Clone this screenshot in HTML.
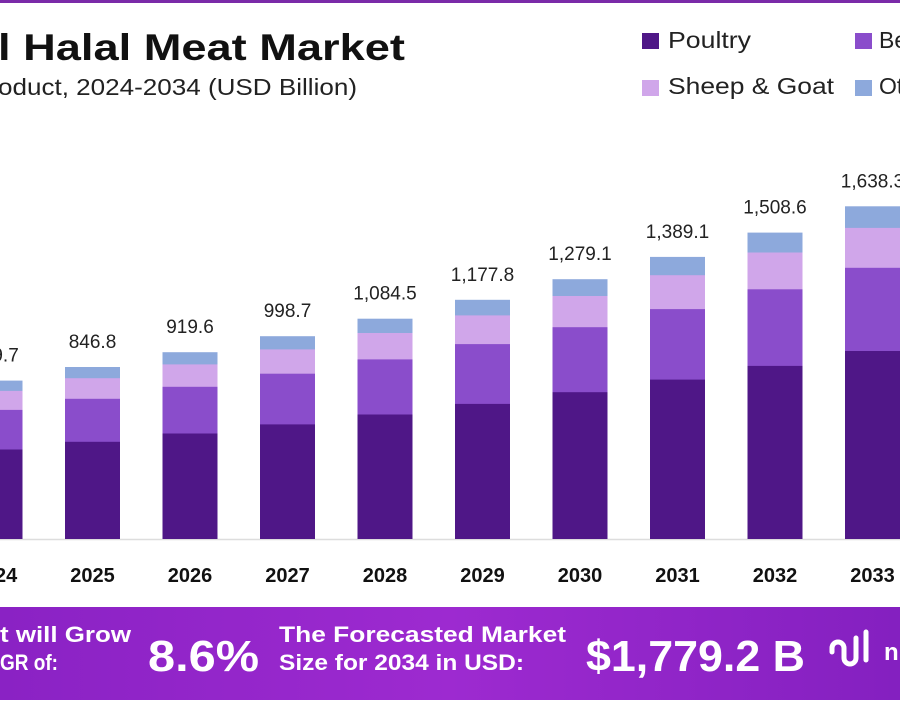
<!DOCTYPE html>
<html><head><meta charset="utf-8"><style>
body{margin:0;width:900px;height:700px;overflow:hidden;background:#fff;font-family:"Liberation Sans",sans-serif;}
</style></head><body>
<svg width="900" height="700" viewBox="0 0 900 700" xmlns="http://www.w3.org/2000/svg" font-family="Liberation Sans, sans-serif">
<defs>
<linearGradient id="bg" x1="0" y1="0" x2="1" y2="0">
<stop offset="0" stop-color="#8a22c4"/><stop offset="0.5" stop-color="#9d2ad0"/><stop offset="1" stop-color="#8420c0"/>
</linearGradient>
</defs>
<rect x="0" y="0" width="900" height="3" fill="#7a2aa8"/>
<text x="-2" y="60" font-size="37" font-weight="bold" fill="#111" textLength="407" lengthAdjust="spacingAndGlyphs">l Halal Meat Market</text>
<text x="-2" y="95" font-size="23" fill="#222" textLength="359" lengthAdjust="spacingAndGlyphs">oduct, 2024-2034 (USD Billion)</text>
<g font-size="23" fill="#222">
<rect x="642" y="33" width="17" height="16" fill="#4f1787"/><text x="668" y="48" textLength="83" lengthAdjust="spacingAndGlyphs">Poultry</text>
<rect x="855" y="33" width="17" height="16" fill="#8a4dcb"/><text x="879" y="48">Be</text>
<rect x="642" y="80" width="17" height="16" fill="#d0a6ea"/><text x="668" y="94" textLength="166" lengthAdjust="spacingAndGlyphs">Sheep &amp; Goat</text>
<rect x="855" y="80" width="17" height="16" fill="#8da9dc"/><text x="879" y="94">Ot</text>
</g>
<line x1="0" y1="539.5" x2="900" y2="539.5" stroke="#ddd" stroke-width="1.5"/>
<g>
<rect x="-32.5" y="380.6" width="55" height="158.4" fill="#8da9dc"/><rect x="-32.5" y="390.9" width="55" height="148.1" fill="#d0a6ea"/><rect x="-32.5" y="409.9" width="55" height="129.1" fill="#8a4dcb"/><rect x="-32.5" y="449.5" width="55" height="89.5" fill="#4f1787"/>
<rect x="65" y="367" width="55" height="172" fill="#8da9dc"/><rect x="65" y="378.2" width="55" height="160.8" fill="#d0a6ea"/><rect x="65" y="398.8" width="55" height="140.2" fill="#8a4dcb"/><rect x="65" y="441.8" width="55" height="97.2" fill="#4f1787"/>
<rect x="162.5" y="352.2" width="55" height="186.8" fill="#8da9dc"/><rect x="162.5" y="364.4" width="55" height="174.6" fill="#d0a6ea"/><rect x="162.5" y="386.8" width="55" height="152.2" fill="#8a4dcb"/><rect x="162.5" y="433.5" width="55" height="105.5" fill="#4f1787"/>
<rect x="260" y="336.2" width="55" height="202.8" fill="#8da9dc"/><rect x="260" y="349.4" width="55" height="189.6" fill="#d0a6ea"/><rect x="260" y="373.7" width="55" height="165.3" fill="#8a4dcb"/><rect x="260" y="424.4" width="55" height="114.6" fill="#4f1787"/>
<rect x="357.5" y="318.7" width="55" height="220.3" fill="#8da9dc"/><rect x="357.5" y="333" width="55" height="206" fill="#d0a6ea"/><rect x="357.5" y="359.4" width="55" height="179.6" fill="#8a4dcb"/><rect x="357.5" y="414.5" width="55" height="124.5" fill="#4f1787"/>
<rect x="455" y="299.8" width="55" height="239.2" fill="#8da9dc"/><rect x="455" y="315.4" width="55" height="223.6" fill="#d0a6ea"/><rect x="455" y="344.1" width="55" height="194.9" fill="#8a4dcb"/><rect x="455" y="403.9" width="55" height="135.1" fill="#4f1787"/>
<rect x="552.5" y="279.2" width="55" height="259.8" fill="#8da9dc"/><rect x="552.5" y="296" width="55" height="243" fill="#d0a6ea"/><rect x="552.5" y="327.2" width="55" height="211.8" fill="#8a4dcb"/><rect x="552.5" y="392.2" width="55" height="146.8" fill="#4f1787"/>
<rect x="650" y="256.9" width="55" height="282.1" fill="#8da9dc"/><rect x="650" y="275.2" width="55" height="263.8" fill="#d0a6ea"/><rect x="650" y="309.1" width="55" height="229.9" fill="#8a4dcb"/><rect x="650" y="379.6" width="55" height="159.4" fill="#4f1787"/>
<rect x="747.5" y="232.6" width="55" height="306.4" fill="#8da9dc"/><rect x="747.5" y="252.5" width="55" height="286.5" fill="#d0a6ea"/><rect x="747.5" y="289.3" width="55" height="249.7" fill="#8a4dcb"/><rect x="747.5" y="365.9" width="55" height="173.1" fill="#4f1787"/>
<rect x="845" y="206.3" width="55" height="332.7" fill="#8da9dc"/><rect x="845" y="227.9" width="55" height="311.1" fill="#d0a6ea"/><rect x="845" y="267.8" width="55" height="271.2" fill="#8a4dcb"/><rect x="845" y="351" width="55" height="188" fill="#4f1787"/>
</g>
<g font-size="19" fill="#222" text-anchor="middle">
<text x="-5" y="361.6">779.7</text>
<text x="92.5" y="348">846.8</text>
<text x="190" y="333.2">919.6</text>
<text x="287.5" y="317.2">998.7</text>
<text x="385" y="299.7">1,084.5</text>
<text x="482.5" y="280.8">1,177.8</text>
<text x="580" y="260.2">1,279.1</text>
<text x="677.5" y="237.9">1,389.1</text>
<text x="775" y="213.6">1,508.6</text>
<text x="872.5" y="187.3">1,638.3</text>
</g>
<g font-size="20" font-weight="bold" fill="#111" text-anchor="middle">
<text x="-5" y="582">2024</text><text x="92.5" y="582">2025</text><text x="190" y="582">2026</text><text x="287.5" y="582">2027</text><text x="385" y="582">2028</text><text x="482.5" y="582">2029</text><text x="580" y="582">2030</text><text x="677.5" y="582">2031</text><text x="775" y="582">2032</text><text x="872.5" y="582">2033</text>
</g>
<rect x="0" y="607" width="900" height="93" fill="url(#bg)"/>
<g fill="#fff" font-weight="bold">
<text x="0" y="642" font-size="22" textLength="131" lengthAdjust="spacingAndGlyphs">t will Grow</text>
<text x="0" y="670" font-size="22" textLength="58" lengthAdjust="spacingAndGlyphs">GR of:</text>
<text x="148" y="671" font-size="44" textLength="111" lengthAdjust="spacingAndGlyphs">8.6%</text>
<text x="279" y="642" font-size="22" textLength="287" lengthAdjust="spacingAndGlyphs">The Forecasted Market</text>
<text x="279" y="670" font-size="22" textLength="245" lengthAdjust="spacingAndGlyphs">Size for 2034 in USD:</text>
<text x="586" y="671" font-size="44" textLength="219" lengthAdjust="spacingAndGlyphs">$1,779.2 B</text>
</g>
<g fill="none" stroke="#fff" stroke-width="5" stroke-linecap="round">
<path d="M832 652 v-4 a6 6 0 0 1 12 0 v10 a6 6 0 0 0 12 0 v-20"/>
<path d="M866 632 v28"/>
</g>
<text x="884" y="660" font-size="24" font-weight="bold" fill="#fff">n</text>
</svg>
</body></html>
